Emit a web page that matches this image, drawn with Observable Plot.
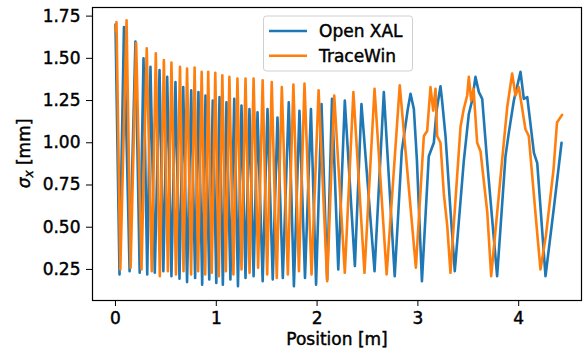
<!DOCTYPE html>
<html>
<head>
<meta charset="utf-8">
<script src="https://cdn.jsdelivr.net/npm/d3@7"></script>
<script src="https://cdn.jsdelivr.net/npm/@observablehq/plot@0.6"></script>
<style>
  html, body { margin: 0; padding: 0; background: white; }
  svg text { stroke: black; stroke-width: 0.45px; }
</style>
</head>
<body>
<div id="chart"></div>
<script>
// ---- Data ----
const seriesNames = ["Open XAL", "TraceWin"];
const seriesColors = ["#1f77b4", "#ff7f0e"];

const xTicks = [0, 1, 2, 3, 4];
const yTicks = [0.25, 0.50, 0.75, 1.00, 1.25, 1.50, 1.75];
const xLabel = "Position [m]";

// Open XAL (blue)
const positionOpenXAL = [
  0.000, 0.040, 0.084, 0.140, 0.198, 0.240, 0.278, 0.315, 0.347, 0.390,
  0.437, 0.475, 0.513, 0.555, 0.595, 0.635, 0.672, 0.710, 0.751, 0.790,
  0.823, 0.860, 0.893, 0.930, 0.965, 1.000, 1.032, 1.065, 1.101, 1.140,
  1.178, 1.215, 1.250, 1.290, 1.329, 1.370, 1.409, 1.460, 1.508, 1.560,
  1.607, 1.660, 1.719, 1.770, 1.825, 1.880, 1.939, 1.990, 2.044, 2.100,
  2.148, 2.210, 2.275, 2.375, 2.440, 2.570, 2.662, 2.770, 2.840, 2.900,
  2.927, 2.960, 2.990, 3.040, 3.108, 3.158, 3.185, 3.224, 3.240, 3.274,
  3.323, 3.366, 3.455, 3.505, 3.538, 3.571, 3.605, 3.638, 3.687, 3.786,
  3.869, 3.902, 3.952, 4.018, 4.051, 4.085, 4.151, 4.184, 4.266, 4.350,
  4.425
];
const sigmaOpenXAL = [
  1.70, 0.22, 1.685, 0.24, 1.60, 0.23, 1.50, 0.22, 1.45, 0.23,
  1.43, 0.24, 1.39, 0.21, 1.36, 0.195, 1.33, 0.175, 1.31, 0.20,
  1.30, 0.16, 1.28, 0.19, 1.25, 0.17, 1.27, 0.16, 1.24, 0.19,
  1.26, 0.15, 1.22, 0.20, 1.20, 0.21, 1.18, 0.18, 1.20, 0.19,
  1.15, 0.20, 1.24, 0.15, 1.19, 0.20, 1.20, 0.16, 1.23, 0.19,
  1.26, 0.25, 1.25, 0.27, 1.23, 0.24, 1.30, 0.21, 0.95, 1.20,
  1.29, 1.20, 0.90, 0.18, 0.92, 1.00, 1.19, 1.335, 1.25, 1.04,
  0.60, 0.24, 0.89, 1.17, 1.25, 1.39, 1.30, 1.26, 0.89, 0.21,
  0.92, 1.06, 1.25, 1.42, 1.26, 1.27, 0.94, 0.88, 0.21, 0.62,
  1.00
];

// TraceWin (orange)
const positionTraceWin = [
  0.000, 0.010, 0.048, 0.110, 0.150, 0.205, 0.258, 0.310, 0.360, 0.400,
  0.440, 0.480, 0.520, 0.555, 0.600, 0.640, 0.675, 0.710, 0.750, 0.785,
  0.820, 0.855, 0.890, 0.920, 0.955, 0.990, 1.025, 1.060, 1.095, 1.130,
  1.170, 1.210, 1.250, 1.290, 1.330, 1.370, 1.415, 1.460, 1.505, 1.550,
  1.600, 1.650, 1.710, 1.765, 1.820, 1.875, 1.945, 2.015, 2.100, 2.170,
  2.275, 2.360, 2.470, 2.570, 2.690, 2.820, 2.980, 3.059, 3.092, 3.125,
  3.152, 3.175, 3.191, 3.224, 3.257, 3.291, 3.323, 3.423, 3.455, 3.489,
  3.505, 3.529, 3.552, 3.588, 3.621, 3.688, 3.727, 3.836, 3.886, 3.935,
  3.968, 4.001, 4.067, 4.100, 4.183, 4.216, 4.270, 4.345, 4.380, 4.430
];
const sigmaTraceWin = [
  1.66, 1.715, 0.25, 1.725, 0.26, 1.59, 0.25, 1.56, 0.24, 1.53,
  0.21, 1.49, 0.24, 1.475, 0.22, 1.45, 0.24, 1.44, 0.22, 1.445,
  0.24, 1.42, 0.22, 1.42, 0.23, 1.415, 0.21, 1.40, 0.24, 1.39,
  0.22, 1.38, 0.25, 1.38, 0.23, 1.38, 0.26, 1.37, 0.22, 1.36,
  0.20, 1.33, 0.22, 1.345, 0.24, 1.35, 0.22, 1.31, 0.18, 1.28,
  0.23, 1.30, 0.23, 1.32, 0.22, 1.34, 0.26, 1.04, 1.07, 1.33,
  1.19, 1.32, 1.04, 1.00, 0.70, 0.51, 0.23, 1.095, 1.20, 1.28,
  1.39, 1.25, 1.32, 1.00, 0.95, 0.59, 0.21, 0.90, 1.21, 1.41,
  1.28, 1.33, 1.08, 1.04, 0.47, 0.25, 0.45, 0.84, 1.12, 1.165
];

// ---- Build tables ----
const openXAL = positionOpenXAL.map((x, i) => ({x, y: sigmaOpenXAL[i]}));
const traceWin = positionTraceWin.map((x, i) => ({x, y: sigmaTraceWin[i]}));

const chart = Plot.plot({
  width: 583,
  height: 357,
  marginLeft: 92,
  marginRight: 2,
  marginTop: 7,
  marginBottom: 57,
  style: {fontFamily: "'DejaVu Sans', sans-serif", fontSize: "17px", color: "black", background: "white", overflow: "visible"},
  x: {domain: [-0.228, 4.623], ticks: xTicks, tickFormat: d => String(d), tickSize: 6, tickPadding: 5, label: null},
  y: {domain: [0.066, 1.801], ticks: yTicks, tickFormat: d3.format(".2f"), tickSize: 6, tickPadding: 6, label: null},
  marks: [
    Plot.line(openXAL, {x: "x", y: "y", stroke: seriesColors[0], strokeWidth: 2.6, strokeLinejoin: "round"}),
    Plot.line(traceWin, {x: "x", y: "y", stroke: seriesColors[1], strokeWidth: 2.6, strokeLinejoin: "round"}),
    Plot.frame({stroke: "black", strokeWidth: 1.2}),
    Plot.text([xLabel], {frameAnchor: "bottom", dy: 44, fontSize: 17, fill: "black"})
  ]
});

document.getElementById("chart").appendChild(chart);

// ---- y label with italic sigma and subscript ----
const svg = d3.select(chart);
const yl = svg.append("text")
  .attr("transform", "translate(30,153.5) rotate(-90)")
  .attr("text-anchor", "middle")
  .attr("fill", "black")
  .style("font-family", "'DejaVu Sans', sans-serif")
  .style("font-size", "17px");
yl.append("tspan").attr("font-style", "italic").text("σ");
yl.append("tspan").attr("font-style", "italic").attr("font-size", "12px").attr("dy", 3).text("x");
yl.append("tspan").attr("dy", -3).text(" [mm]");

// ---- Legend ----
const lg = svg.append("g")
  .attr("text-anchor", "start")
  .style("font-family", "'DejaVu Sans', sans-serif")
  .style("font-size", "17px");
lg.append("rect")
  .attr("x", 263.5).attr("y", 16).attr("width", 149).attr("height", 55)
  .attr("rx", 3).attr("fill", "white").attr("fill-opacity", 0.85)
  .attr("stroke", "#d0d0d0").attr("stroke-width", 1);
seriesNames.forEach((name, i) => {
  const cy = 31 + i * 24.7;
  lg.append("line").attr("x1", 269).attr("x2", 307).attr("y1", cy).attr("y2", cy)
    .attr("stroke", seriesColors[i]).attr("stroke-width", 2.6);
  lg.append("text").attr("x", 319).attr("y", cy + 6.3).attr("fill", "black")
    .attr("text-anchor", "start").text(name);
});
</script>
</body>
</html>
